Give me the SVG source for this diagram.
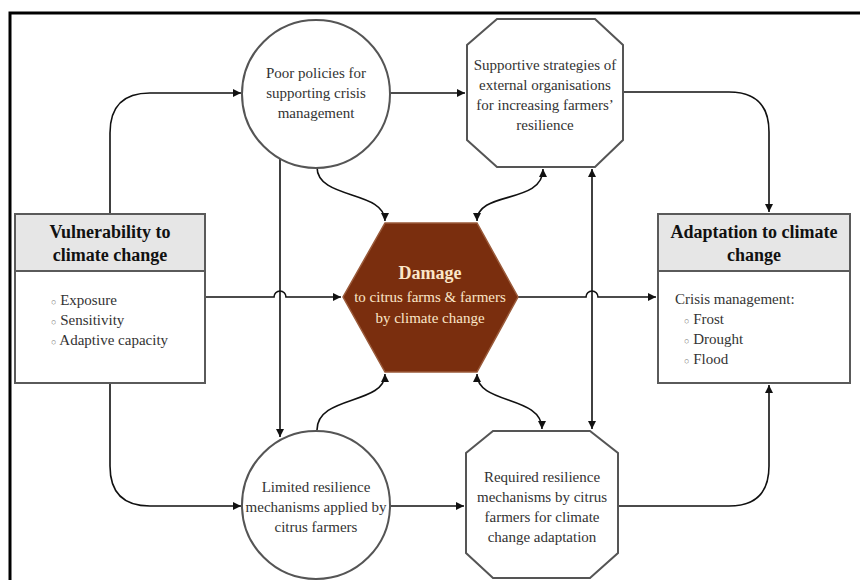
<svg xmlns="http://www.w3.org/2000/svg" width="860" height="580" viewBox="0 0 860 580">
<style>
.frame{fill:none;stroke:#000;stroke-width:3}
.box{fill:#fff;stroke:#5a5a5a;stroke-width:2}
.hdr{fill:#e6e6e6;stroke:#5a5a5a;stroke-width:2}
.node{fill:#fff;stroke:#555;stroke-width:2}
.hex{fill:#7a2e0e;stroke:#9a5a3a;stroke-width:1.5}
.t{font-family:"Liberation Serif","Times New Roman",serif;font-size:15px;fill:#333;text-anchor:middle}
.tl{font-family:"Liberation Serif","Times New Roman",serif;font-size:15px;fill:#333}
.h{font-family:"Liberation Serif","Times New Roman",serif;font-size:18px;font-weight:bold;fill:#111;text-anchor:middle}
.ht{font-family:"Liberation Serif","Times New Roman",serif;font-size:15px;fill:#fbe6c8;text-anchor:middle}
.hb{font-size:18px;font-weight:bold}
.b{font-size:9px;fill:#777}
.c{fill:none;stroke:#111;stroke-width:1.6}
</style>
<defs>
<marker id="ah" viewBox="0 0 10 10" refX="10" refY="5" markerWidth="8" markerHeight="8" markerUnits="userSpaceOnUse" orient="auto-start-reverse">
<path d="M0,0 L10,5 L0,10 z" fill="#111"/>
</marker>
</defs>
<path class="frame" d="M10,580 V13 H860"/>
<g id="connectors">
<path class="c" d="M110,214 V133 Q110,93 150,93 H241" marker-end="url(#ah)"/>
<path class="c" d="M110,383 V466 Q110,506 150,506 H241" marker-end="url(#ah)"/>
<path class="c" d="M205,297 H274 A6,6 0 0 1 286,297 H341" marker-end="url(#ah)"/>
<path class="c" d="M390,93 H465" marker-end="url(#ah)"/>
<path class="c" d="M623,92 H729 Q769,92 769,132 V212" marker-end="url(#ah)"/>
<path class="c" d="M390,506 H464" marker-end="url(#ah)"/>
<path class="c" d="M618,506 H729 Q769,506 769,466 V385" marker-end="url(#ah)"/>
<path class="c" d="M518,297 H586 A6,6 0 0 1 598,297 H656" marker-end="url(#ah)"/>
<path class="c" d="M280,158 V437" marker-end="url(#ah)"/>
<path class="c" d="M317,167 C317,200 385,190 385,221" marker-end="url(#ah)"/>
<path class="c" d="M543,169 C543,205 477,190 477,221" marker-start="url(#ah)" marker-end="url(#ah)"/>
<path class="c" d="M592,169 V429" marker-start="url(#ah)" marker-end="url(#ah)"/>
<path class="c" d="M317,430 C317,395 385,405 385,374" marker-end="url(#ah)"/>
<path class="c" d="M477,374 C477,405 542,395 542,429" marker-start="url(#ah)" marker-end="url(#ah)"/>
</g>
<g id="vulnerability">
<rect class="box" x="15" y="214" width="190" height="169"/>
<rect class="hdr" x="15" y="214" width="190" height="57"/>
<text class="h" x="110" y="238">Vulnerability to</text>
<text class="h" x="110" y="261">climate change</text>
<text class="tl" x="51" y="305"><tspan class="b">○</tspan> Exposure</text>
<text class="tl" x="51" y="325"><tspan class="b">○</tspan> Sensitivity</text>
<text class="tl" x="51" y="345"><tspan class="b">○</tspan> Adaptive capacity</text>
</g>
<g id="adaptation">
<rect class="box" x="658" y="214" width="192" height="169"/>
<rect class="hdr" x="658" y="214" width="192" height="57"/>
<text class="h" x="754" y="238">Adaptation to climate</text>
<text class="h" x="754" y="261">change</text>
<text class="tl" x="675" y="304">Crisis management:</text>
<text class="tl" x="684" y="324"><tspan class="b">○</tspan> Frost</text>
<text class="tl" x="684" y="344"><tspan class="b">○</tspan> Drought</text>
<text class="tl" x="684" y="364"><tspan class="b">○</tspan> Flood</text>
</g>
<g id="damage">
<polygon class="hex" points="385,223 477,223 518,297 477,372 385,372 343,297"/>
<text class="ht hb" x="430" y="279">Damage</text>
<text class="ht" x="430" y="302">to citrus farms &amp; farmers</text>
<text class="ht" x="430" y="323">by climate change</text>
</g>
<g id="poor-policies">
<circle class="node" cx="316" cy="94" r="74"/>
<text class="t" x="316" y="78">Poor policies for</text>
<text class="t" x="316" y="98">supporting crisis</text>
<text class="t" x="316" y="118">management</text>
</g>
<g id="supportive-strategies">
<polygon class="node" points="497,19 595,19 623,45 623,140 595,167 497,167 467,140 467,45"/>
<text class="t" x="545" y="70">Supportive strategies of</text>
<text class="t" x="545" y="90">external organisations</text>
<text class="t" x="545" y="110">for increasing farmers’</text>
<text class="t" x="545" y="130">resilience</text>
</g>
<g id="limited-resilience">
<circle class="node" cx="316" cy="505" r="74"/>
<text class="t" x="316" y="492">Limited resilience</text>
<text class="t" x="316" y="512">mechanisms applied by</text>
<text class="t" x="316" y="532">citrus farmers</text>
</g>
<g id="required-resilience">
<polygon class="node" points="493,431 590,431 618,453 618,553 590,578 493,578 466,553 466,453"/>
<text class="t" x="542" y="482">Required resilience</text>
<text class="t" x="542" y="502">mechanisms by citrus</text>
<text class="t" x="542" y="522">farmers for climate</text>
<text class="t" x="542" y="542">change adaptation</text>
</g>
</svg>
